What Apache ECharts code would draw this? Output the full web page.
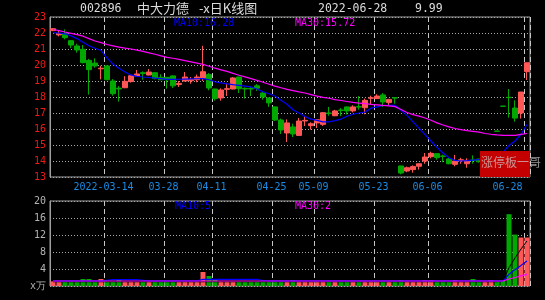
<!DOCTYPE html>
<html><head><meta charset="utf-8">
<script src="https://cdn.jsdelivr.net/npm/echarts@6/dist/echarts.min.js"></script>
<style>html,body{margin:0;padding:0;background:#000;}#c{width:545px;height:300px;}</style>
</head><body><div id="c"></div>
<script>
const dates = [
'2022-03-01','2022-03-02','2022-03-03','2022-03-04','2022-03-07','2022-03-08','2022-03-09','2022-03-10','2022-03-11',
'2022-03-14','2022-03-15','2022-03-16','2022-03-17','2022-03-18','2022-03-21','2022-03-22','2022-03-23','2022-03-24','2022-03-25',
'2022-03-28','2022-03-29','2022-03-30','2022-03-31','2022-04-01','2022-04-06','2022-04-07','2022-04-08',
'2022-04-11','2022-04-12','2022-04-13','2022-04-14','2022-04-15','2022-04-18','2022-04-19','2022-04-20','2022-04-21','2022-04-22',
'2022-04-25','2022-04-26','2022-04-27','2022-04-28','2022-04-29','2022-05-05','2022-05-06',
'2022-05-09','2022-05-10','2022-05-11','2022-05-12','2022-05-13','2022-05-16','2022-05-17','2022-05-18','2022-05-19','2022-05-20',
'2022-05-23','2022-05-24','2022-05-25','2022-05-26','2022-05-27','2022-05-30','2022-05-31','2022-06-01','2022-06-02',
'2022-06-06','2022-06-07','2022-06-08','2022-06-09','2022-06-10','2022-06-13','2022-06-14','2022-06-15','2022-06-16','2022-06-17',
'2022-06-20','2022-06-21','2022-06-22','2022-06-23','2022-06-24','2022-06-27','2022-06-28'];

const tickDates = ['2022-03-14','2022-03-28','2022-04-11','2022-04-25','2022-05-09','2022-05-23','2022-06-06','2022-06-28'];
const tickLabels = ['2022-03-14','03-28','04-11','04-25','05-09','05-23','06-06','06-28'];

const opens = [22.15,21.88,21.96,21.52,21.19,20.98,20.29,20.12,19.76,19.94,
19.0,18.55,18.58,18.96,19.31,19.52,19.375,19.52,19.23,19.23,
19.32,18.78,19.0,19.02,19.08,19.17,19.4,18.5,17.94,18.48,
18.5,19.25,18.54,18.54,18.7,18.25,17.94,17.38,16.56,15.75,
16.13,15.6,16.5,16.21,16.38,16.29,17.0,16.83,17.19,17.38,
17.13,17.4,17.33,17.92,17.9,18.13,17.65,17.96,13.69,13.375,
13.46,13.67,14.0,14.27,14.46,14.31,14.13,13.79,14.02,13.83,
14.06,14.12,13.95,14.3,15.87,17.43,17.98,17.31,17.0,19.58];
const closes = [22.27,21.95,21.71,21.25,20.94,20.15,19.71,19.94,19.8,19.08,
18.21,18.5,18.98,19.33,19.44,19.47,19.56,19.15,19.08,19.08,
18.7,18.85,19.25,19.1,19.25,19.58,18.56,17.9,18.44,18.52,
19.19,18.52,18.5,18.5,18.55,18.0,17.63,16.56,15.94,16.38,
15.69,16.5,16.54,16.33,16.58,17.02,16.97,17.13,17.16,17.13,
17.38,17.37,17.79,17.95,18.06,17.69,17.85,17.93,13.25,13.58,
13.65,13.83,14.25,14.48,14.21,14.29,13.83,14.0,14.08,14.04,
14.04,13.95,14.1,14.42,15.86,17.42,17.96,16.68,18.31,20.14];
const lows = [22.12,21.79,21.6,21.06,20.77,20.1,18.15,19.83,19.1,19.06,
18.08,17.71,18.55,18.9,19.3,19.08,19.35,19.1,19.05,18.52,
18.56,18.63,18.98,18.83,18.92,19.0,18.42,17.77,17.77,18.06,
18.48,18.25,17.9,18.06,18.38,17.83,17.38,16.5,15.69,15.19,
15.5,15.58,16.19,15.96,16.06,16.19,16.83,16.8,16.81,16.9,
17.04,17.21,16.92,17.54,17.88,17.38,17.5,17.58,13.17,13.3,
13.27,13.46,13.83,14.17,14.08,13.92,13.8,13.67,13.83,13.58,
13.83,13.9,13.9,14.25,15.86,17.42,16.71,16.46,16.65,19.06];
const highs = [22.3,22.12,22.23,21.55,21.33,21.25,20.38,20.42,19.95,19.96,
19.12,18.69,19.3,19.35,19.69,19.6,19.75,19.55,19.42,19.25,
19.35,19.0,19.56,19.25,19.4,21.2,19.5,18.52,18.54,18.88,
19.25,19.27,18.6,18.62,18.81,18.31,17.96,17.4,16.65,16.6,
16.33,16.69,16.81,16.42,16.6,17.05,17.38,17.2,17.31,17.4,
17.48,18.06,17.9,18.08,18.17,18.25,17.88,18.0,13.7,13.65,
13.73,13.85,14.5,14.58,14.48,14.4,14.2,14.38,14.2,14.17,
14.35,14.15,14.2,14.45,15.87,17.43,18.5,17.79,18.31,20.14];

const ma10 = [22.02,22.0,21.95,21.82,21.65,21.42,21.2,21.05,20.92,20.45,
20.05,19.8,19.56,19.38,19.29,19.25,19.22,19.18,19.15,19.1,
19.1,19.11,19.12,19.13,19.14,19.15,19.08,18.95,18.88,18.82,
18.77,18.73,18.68,18.63,18.5,18.33,18.2,18.06,17.8,17.55,
17.2,17.0,16.78,16.62,16.54,16.45,16.45,16.52,16.62,16.8,
16.92,17.0,17.06,17.3,17.38,17.47,17.48,17.48,17.17,16.85,
16.45,16.05,15.65,15.25,14.85,14.5,14.2,14.04,14.0,14.02,
14.06,14.08,14.09,14.08,14.25,14.56,14.97,15.25,15.67,16.28];
const ma30 = [22.22,22.15,22.06,21.98,21.9,21.8,21.65,21.5,21.4,21.28,
21.2,21.12,21.05,21.0,20.93,20.85,20.76,20.67,20.57,20.48,
20.42,20.35,20.27,20.2,20.12,20.04,19.92,19.8,19.7,19.6,
19.48,19.36,19.26,19.15,19.04,18.92,18.8,18.68,18.58,18.48,
18.4,18.32,18.25,18.15,18.05,17.98,17.92,17.84,17.78,17.72,
17.66,17.62,17.58,17.54,17.51,17.48,17.45,17.4,17.22,17.03,
16.9,16.8,16.69,16.55,16.38,16.25,16.13,16.03,15.96,15.9,
15.85,15.8,15.72,15.67,15.63,15.6,15.6,15.6,15.66,15.72];

const volumes = [1.1,1.0,1.1,1.1,1.1,1.65,1.65,1.1,1.65,1.1,
1.1,1.65,1.1,1.1,1.0,1.1,1.1,1.1,1.0,1.1,
1.1,1.0,1.1,1.1,1.1,3.3,2.35,1.65,1.1,1.1,
1.1,1.1,1.0,1.1,1.1,1.1,1.1,1.1,1.1,1.0,
1.4,1.1,1.1,1.0,1.1,1.1,1.1,1.1,1.0,1.1,
1.1,1.1,1.1,1.1,1.0,1.1,1.1,1.1,1.4,1.1,
1.1,1.1,1.4,1.4,1.1,1.1,1.0,1.4,1.1,1.1,
1.65,1.1,1.1,1.4,1.1,1.3,16.9,12.1,11.4,11.4];
const volMa5 = [1.0,1.0,1.0,1.0,1.0,1.0,1.0,1.0,1.0,1.0,
1.0,1.0,1.0,1.0,1.0,1.0,1.0,1.0,1.0,1.0,
1.0,1.0,1.0,1.0,1.0,1.0,1.0,1.0,1.0,1.0,
1.0,1.0,1.0,1.0,1.0,1.0,1.0,1.0,1.0,1.0,
1.0,1.0,1.0,1.0,1.0,1.0,1.0,1.0,1.0,1.0,
1.0,1.0,1.0,1.0,1.0,1.0,1.0,1.0,1.0,1.0,
1.0,1.0,1.0,1.0,1.0,1.0,1.0,1.0,1.0,1.0,
1.0,1.0,1.0,1.0,1.0,1.2,4.3,6.6,8.7,10.6];
const volMa10 = [1.2,1.2,1.2,1.2,1.2,1.2,1.2,1.2,1.2,1.35,
1.5,1.5,1.5,1.5,1.5,1.35,1.2,1.2,1.2,1.2,
1.2,1.2,1.2,1.2,1.2,1.55,1.55,1.55,1.55,1.55,
1.55,1.55,1.55,1.55,1.55,1.3,1.2,1.2,1.2,1.2,
1.2,1.2,1.2,1.2,1.2,1.2,1.2,1.2,1.2,1.2,
1.2,1.2,1.2,1.2,1.2,1.2,1.2,1.2,1.2,1.2,
1.2,1.2,1.2,1.2,1.2,1.2,1.2,1.2,1.2,1.2,
1.2,1.2,1.2,1.2,1.2,1.2,2.75,3.85,4.85,5.9];
const volMa30 = [1.18,1.18,1.18,1.18,1.18,1.18,1.18,1.18,1.18,1.18,
1.18,1.18,1.18,1.18,1.18,1.18,1.18,1.18,1.18,1.18,
1.18,1.18,1.18,1.18,1.18,1.18,1.18,1.18,1.18,1.18,
1.18,1.18,1.18,1.18,1.18,1.18,1.18,1.18,1.18,1.18,
1.18,1.18,1.18,1.18,1.18,1.18,1.18,1.18,1.18,1.18,
1.18,1.18,1.18,1.18,1.18,1.18,1.18,1.18,1.18,1.18,
1.18,1.18,1.18,1.18,1.18,1.18,1.18,1.18,1.18,1.18,
1.18,1.18,1.18,1.18,1.18,1.18,1.65,2.0,2.38,2.75];

const UP = '#ff5656', DOWN = '#00a800';
const MONO = 'DejaVu Sans Mono';
const CJK = 'Noto Sans CJK SC';
const last = dates.length - 1;
const isTick = (idx) => tickDates.indexOf(dates[idx]) >= 0;

const candles = dates.map((d, i) => [opens[i], closes[i], lows[i], highs[i]]);
const volData = volumes.map((v, i) => ({value: v, itemStyle: {color: closes[i] > opens[i] ? UP : DOWN}}));

const chart = echarts.init(document.getElementById('c'), null, {renderer: 'canvas'});
const dashV = {show: true, interval: (idx) => isTick(idx), lineStyle: {color: '#c8c8c8', type: [5, 3], width: 1}};
const dotH = {show: true, lineStyle: {color: '#a8a8a8', type: [1, 2], width: 1}};

chart.setOption({
  backgroundColor: '#000',
  animation: false,
  grid: [
    {left: 50, top: 17, width: 480, height: 160, show: true, borderColor: '#a0a0a0', borderWidth: 1, backgroundColor: 'transparent'},
    {left: 50, top: 201, width: 480, height: 85, show: true, borderColor: '#a0a0a0', borderWidth: 1, backgroundColor: 'transparent'}
  ],
  xAxis: [
    {type: 'category', gridIndex: 0, data: dates, boundaryGap: true,
     axisLine: {show: false}, axisTick: {show: false},
     axisLabel: {interval: (idx) => isTick(idx), margin: 5, color: '#1a8ce6',
       fontFamily: MONO, fontSize: 10, padding: [0, 7, 0, 0],
       formatter: (v) => { const k = tickDates.indexOf(v); const t = tickLabels[k]; return v === dates[last] ? '{e|' + t + '}' : t; },
       rich: {e: {color: '#1a8ce6', fontFamily: MONO, fontSize: 10, padding: [0, 32, 0, 0]}}},
     splitLine: dashV},
    {type: 'category', gridIndex: 1, data: dates, boundaryGap: true,
     axisLine: {show: false}, axisTick: {show: false}, axisLabel: {show: false},
     splitLine: dashV}
  ],
  yAxis: [
    {type: 'value', gridIndex: 0, min: 13, max: 23, interval: 1,
     axisLine: {show: true, lineStyle: {color: '#a0a0a0'}}, axisTick: {show: false},
     axisLabel: {color: '#f01818', fontFamily: MONO, fontSize: 10, margin: 4},
     splitLine: dotH},
    {type: 'value', gridIndex: 1, min: 0, max: 20, interval: 4,
     axisLine: {show: true, lineStyle: {color: '#a0a0a0'}}, axisTick: {show: false},
     axisLabel: {color: '#b4b4b4', fontFamily: MONO, fontSize: 10, margin: 4,
       formatter: (v) => v === 0 ? 'x万' : String(v)},
     splitLine: dotH}
  ],
  series: [
    {type: 'candlestick', xAxisIndex: 0, yAxisIndex: 0, data: candles, barWidth: 5,
     itemStyle: {color: UP, color0: DOWN, borderColor: UP, borderColor0: DOWN, borderWidth: 1}},
    {type: 'line', xAxisIndex: 0, yAxisIndex: 0, data: ma10, symbol: 'none',
     lineStyle: {color: '#0000ff', width: 1.2}},
    {type: 'line', xAxisIndex: 0, yAxisIndex: 0, data: ma30, symbol: 'none',
     lineStyle: {color: '#ff00ff', width: 1.2}},
    {type: 'bar', xAxisIndex: 1, yAxisIndex: 1, data: volData, barWidth: 5},
    {type: 'line', xAxisIndex: 1, yAxisIndex: 1, data: volMa5, symbol: 'none',
     lineStyle: {color: '#000000', width: 1}},
    {type: 'line', xAxisIndex: 1, yAxisIndex: 1, data: volMa10, symbol: 'none',
     lineStyle: {color: '#0000ff', width: 1.2}},
    {type: 'line', xAxisIndex: 1, yAxisIndex: 1, data: volMa30, symbol: 'none',
     lineStyle: {color: '#ff00ff', width: 1.2}}
  ],
  graphic: [
    {type: 'text', left: 80, top: 3, style: {text: '002896', fill: '#dcdcdc', font: '11.5px "' + MONO + '"'}},
    {type: 'text', left: 137, top: 2, style: {text: '中大力德', fill: '#dcdcdc', font: '13px "' + CJK + '"'}},
    {type: 'text', left: 199, top: 2, style: {text: '-x日K线图', fill: '#dcdcdc', font: '13px "' + CJK + '"'}},
    {type: 'text', left: 318, top: 3, style: {text: dates[last], fill: '#dcdcdc', font: '11.5px "' + MONO + '"'}},
    {type: 'text', left: 415, top: 3, style: {text: '9.99', fill: '#dcdcdc', font: '11.5px "' + MONO + '"'}},
    {type: 'text', left: 174, top: 18, z: 50, style: {text: 'MA10:' + ma10[last].toFixed(2), fill: '#0000ff', font: '10px "' + MONO + '"'}},
    {type: 'text', left: 295, top: 18, z: 50, style: {text: 'MA30:' + ma30[last].toFixed(2), fill: '#ff00ff', font: '10px "' + MONO + '"'}},
    {type: 'text', left: 175, top: 201, z: 50, style: {text: 'MA10:' + Math.floor(volMa10[last]), fill: '#0000ff', font: '10px "' + MONO + '"'}},
    {type: 'text', left: 295, top: 201, z: 50, style: {text: 'MA30:' + Math.floor(volMa30[last]), fill: '#ff00ff', font: '10px "' + MONO + '"'}},
    {type: 'rect', left: 480, top: 151, z: 100, shape: {width: 50, height: 26}, style: {fill: '#c40000'}},
    {type: 'text', left: 481, top: 156, z: 101, style: {text: '涨停板一哥', fill: 'rgba(210,210,210,0.7)', font: '12px "' + CJK + '"'}}
  ]
});
</script>
</body></html>
